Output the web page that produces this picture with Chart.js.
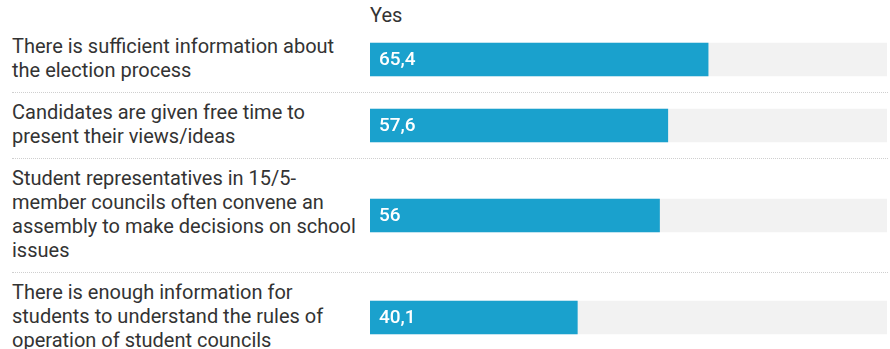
<!DOCTYPE html>
<html>
<head>
<meta charset="utf-8">
<title>Student councils</title>
<script src="https://cdn.jsdelivr.net/npm/chart.js@4/dist/chart.umd.min.js"></script>
<style>
    body {
        margin: 0;
        background: #fff;
        font-family: Roboto, "Noto Sans", sans-serif;
        color: #333;
    }
    .chart {
        width: 876px;
        margin-left: 12px;
    }
    .header {
        height: 27px;
        padding-left: 358px;
        font-size: 20px;
        line-height: 30px;
    }
    .row {
        display: flex;
        border-bottom: 1px dotted #cfcfcf;
    }
    .row:last-child {
        border-bottom: none;
    }
    .label {
        width: 358px;
        padding: 7px 0 10px 0;
        font-size: 20px;
        line-height: 24px;
    }
    .bar {
        position: relative;
        width: 517px;
    }
    .bar .box {
        position: absolute;
        left: 0;
        right: 0;
        top: 0;
        bottom: 0;
    }
</style>
</head>
<body>
<div class="chart">
    <div class="header" id="seriesTitle"></div>
    <div id="rows"></div>
</div>
<script>
// Row labels, one entry per line of text
const categories = [
    ['There is sufficient information about', 'the election process'],
    ['Candidates are given free time to', 'present their views/ideas'],
    ['Student representatives in 15/5-', 'member councils often convene an', 'assembly to make decisions on school', 'issues'],
    ['There is enough information for', 'students to understand the rules of', 'operation of student councils']
];
const seriesName = 'Yes';
const yesValues = [65.4, 57.6, 56, 40.1];
const trackValues = [100, 100, 100, 100];

const BAR_COLOR = '#1aa1cd';
const TRACK_COLOR = '#f2f2f2';

document.getElementById('seriesTitle').textContent = seriesName;

// Writes the value inside the bar, near its base
const valueLabels = {
    id: 'valueLabels',
    afterDatasetsDraw(chart) {
        const ctx = chart.ctx;
        const meta = chart.getDatasetMeta(0);
        ctx.save();
        ctx.fillStyle = '#fff';
        ctx.font = '500 19px Roboto';
        ctx.textBaseline = 'middle';
        meta.data.forEach((bar, i) => {
            const v = chart.data.datasets[0].data[i];
            const text = String(v).replace('.', ',');
            ctx.fillText(text, bar.base + 9, bar.y + 1);
        });
        ctx.restore();
    }
};

const rowsEl = document.getElementById('rows');

categories.forEach((lines, i) => {
    const row = document.createElement('div');
    row.className = 'row';

    const label = document.createElement('div');
    label.className = 'label';
    label.innerHTML = lines.join('<br>');
    row.appendChild(label);

    // the canvas sits in an absolute box so the row height comes from the label
    const barCell = document.createElement('div');
    barCell.className = 'bar';
    const box = document.createElement('div');
    box.className = 'box';
    const canvas = document.createElement('canvas');
    box.appendChild(canvas);
    barCell.appendChild(box);
    row.appendChild(barCell);
    rowsEl.appendChild(row);

    new Chart(canvas, {
        type: 'bar',
        data: {
            labels: [lines.join(' ')],
            datasets: [
                {
                    label: seriesName,
                    data: [yesValues[i]],
                    backgroundColor: BAR_COLOR,
                    barThickness: 33,
                    grouped: false
                },
                {
                    label: 'track',
                    data: [trackValues[i]],
                    backgroundColor: TRACK_COLOR,
                    barThickness: 33,
                    grouped: false
                }
            ]
        },
        options: {
            indexAxis: 'y',
            responsive: true,
            maintainAspectRatio: false,
            animation: false,
            layout: { padding: 0 },
            plugins: {
                legend: { display: false },
                tooltip: { enabled: false }
            },
            scales: {
                x: { display: false, min: 0, max: 100 },
                y: { display: false }
            }
        },
        plugins: [valueLabels]
    });
});
</script>
</body>
</html>
